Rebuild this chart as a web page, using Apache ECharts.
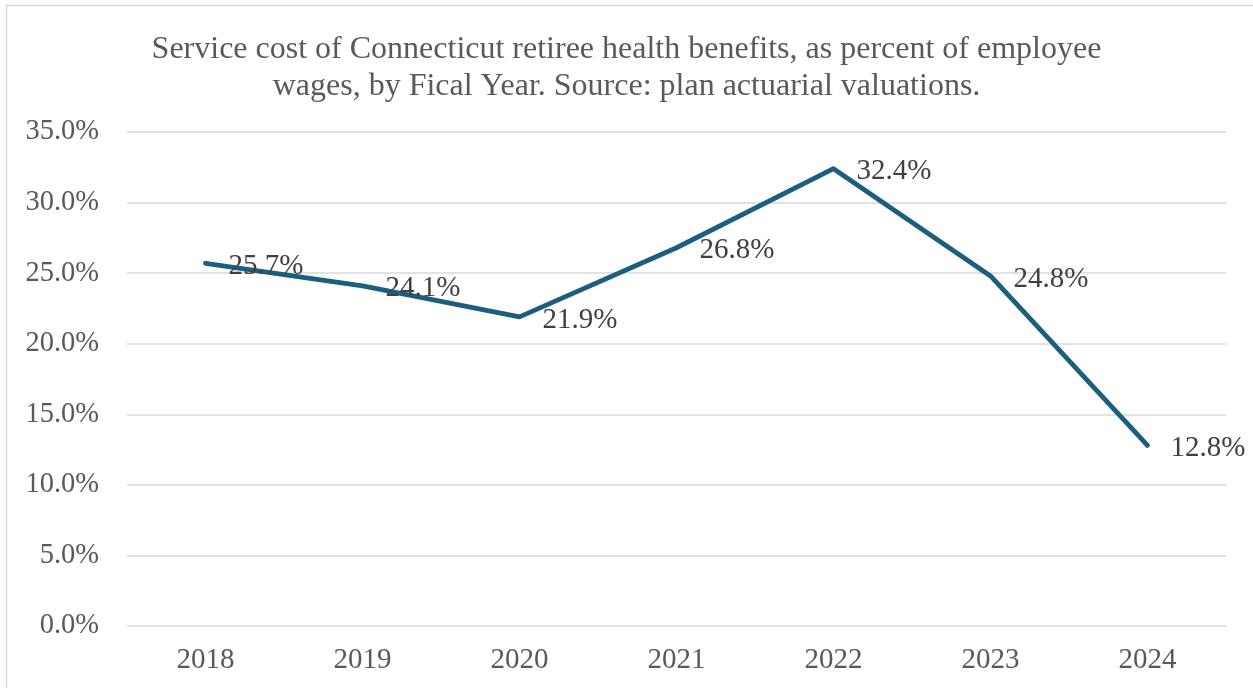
<!DOCTYPE html>
<html>
<head>
<meta charset="utf-8">
<script src="https://cdn.jsdelivr.net/npm/echarts@6/dist/echarts.min.js"></script>
<style>
  html, body { margin: 0; padding: 0; background: #ffffff; }
  #chart { width: 1253px; height: 688px; }
</style>
</head>
<body>
<div id="chart"></div>
<script>
// Fiscal years and service cost as percent of employee wages
const years = ['2018', '2019', '2020', '2021', '2022', '2023', '2024'];
const serviceCostPct = [25.7, 24.1, 21.9, 26.8, 32.4, 24.8, 12.8];
const titleLines = [
  'Service cost of Connecticut retiree health benefits, as percent of employee',
  'wages, by Fical Year. Source: plan actuarial valuations.'
];

const serif = '"Liberation Serif", "DejaVu Serif", serif';
const chart = echarts.init(document.getElementById('chart'));

chart.setOption({
  backgroundColor: '#ffffff',
  animation: false,
  graphic: [{
    type: 'rect',
    shape: { x: 6.5, y: 5.5, width: 1260, height: 700 },
    style: { fill: 'none', stroke: '#d9d9d9', lineWidth: 1.5 },
    silent: true
  }],
  title: {
    text: titleLines.join('\n'),
    left: 'center',
    top: 26,
    textStyle: {
      fontFamily: serif,
      fontSize: 32,
      fontWeight: 'normal',
      color: '#595959',
      lineHeight: 37
    }
  },
  grid: { left: 127, right: 27, top: 132, bottom: 62 },
  xAxis: {
    type: 'category',
    data: years,
    boundaryGap: true,
    axisLine: { show: false },
    axisTick: { show: false },
    axisLabel: {
      fontFamily: serif,
      fontSize: 29,
      color: '#595959',
      margin: 20
    }
  },
  yAxis: {
    type: 'value',
    min: 0,
    max: 35,
    interval: 5,
    axisLine: { show: false },
    axisTick: { show: false },
    splitLine: { lineStyle: { color: '#d9d9d9', width: 1.5 } },
    axisLabel: {
      fontFamily: serif,
      fontSize: 28.5,
      color: '#595959',
      margin: 28,
      formatter: v => v.toFixed(1) + '%'
    }
  },
  series: [{
    type: 'line',
    data: serviceCostPct,
    symbol: 'circle',
    symbolSize: 2,
    showSymbol: true,
    itemStyle: { color: '#1b5e7e' },
    lineStyle: { color: '#1b5e7e', width: 4.8, cap: 'round', join: 'round' },
    label: {
      show: true,
      position: 'right',
      distance: 20,
      offset: [2, 3],
      fontFamily: serif,
      fontSize: 29,
      color: '#404040',
      formatter: p => p.value.toFixed(1) + '%'
    }
  }]
});
</script>
</body>
</html>
